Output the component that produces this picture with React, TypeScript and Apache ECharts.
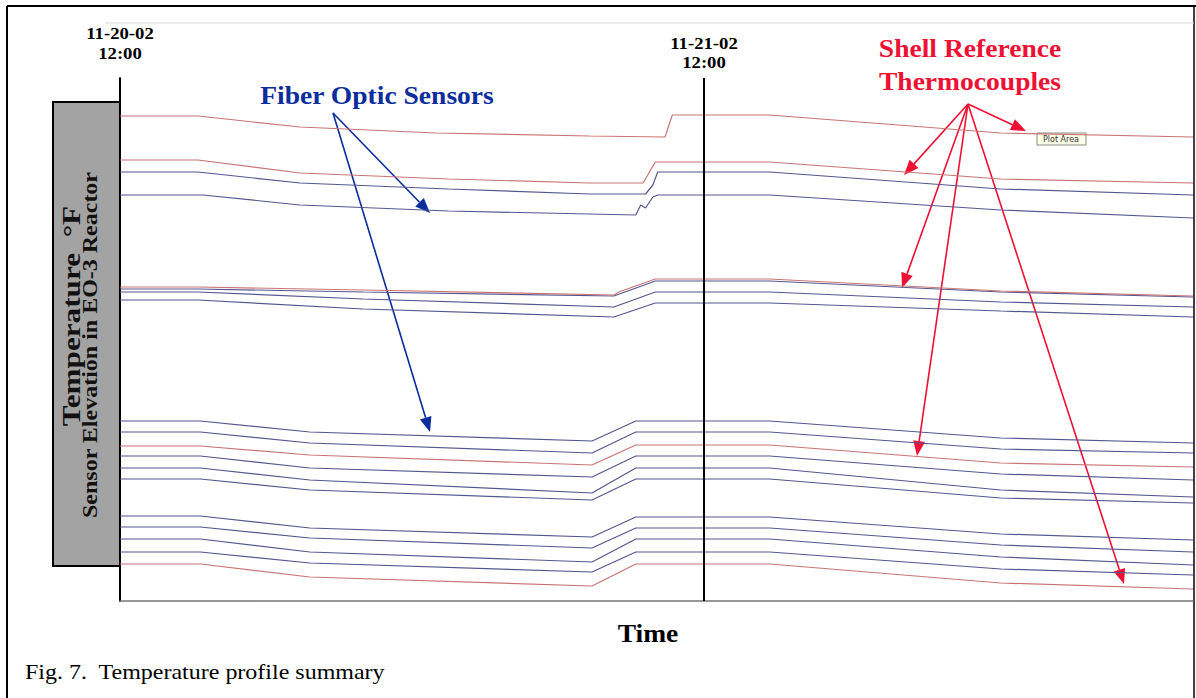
import React, { useEffect, useRef } from "react";
import * as echarts from "echarts";

// Time axis: hours after 11-20-02 12:00
const HOUR_MIN = 0;
const HOUR_MAX = 44.1;
const DAY_MARK = 24; // 11-21-02 12:00

// relative temperature readings (arbitrary units, higher = warmer / higher sensor)
const VAL_MIN = 0;
const VAL_MAX = 523;

type Pt = [number, number];

// top group
const tcTop: Pt[] = [[0, 485], [3.2, 485], [7.4, 474], [13, 468], [19.3, 465], [22.4, 464], [22.7, 486], [26.7, 486], [36.2, 468], [44.1, 464]];
const tcUpper: Pt[] = [[0, 441], [3.2, 441], [7.4, 428], [13.5, 422], [19.3, 418], [21.5, 418], [22.0, 439], [26.7, 439], [36.2, 422], [44.1, 418]];
const foUpper1: Pt[] = [[0, 429], [3.2, 429], [7.4, 418], [13.5, 412], [19.3, 407], [21.6, 407], [21.9, 416], [22.1, 429], [26.7, 429], [36.2, 412], [44.1, 406]];
const foUpper2: Pt[] = [[0, 406], [3.4, 406], [7.4, 396], [13.5, 390], [21.2, 386], [21.4, 396], [21.6, 393], [21.9, 404], [22.1, 406], [26.7, 406], [36.2, 391], [44.1, 383]];

// middle group
const tcMid: Pt[] = [[0, 314], [3.2, 314], [10, 311], [20.3, 306], [20.5, 309], [22.0, 322], [26.7, 322], [36.2, 310], [44.1, 305]];
const foMid1: Pt[] = [[0, 312], [3.2, 312], [10, 309], [20.3, 305], [22.0, 320], [26.7, 320], [36.2, 309], [44.1, 304]];
const foMid2: Pt[] = [[0, 309], [3.2, 309], [10, 302], [20.3, 294], [22.0, 309], [26.7, 309], [36.2, 299], [44.1, 294]];
const foMid3: Pt[] = [[0, 301], [3.2, 301], [10, 292], [20.3, 284], [22.0, 298], [26.7, 298], [36.2, 290], [44.1, 284]];

// lower groups, sampled at these hours
const lowerHours = [0, 3.3, 7.8, 19.4, 21.2, 26.7, 36.2, 44.1];
const fo1 = [180, 180, 169, 160, 180, 180, 163, 158];
const fo2 = [169, 169, 158, 148, 169, 169, 152, 148];
const tcLow1 = [155, 155, 146, 136, 156, 156, 138, 134];
const fo3 = [145, 145, 133, 124, 145, 145, 127, 121];
const fo4 = [133, 133, 121, 108, 133, 133, 111, 104];
const fo5 = [122, 122, 111, 101, 122, 122, 103, 98];
const fo6 = [85, 85, 73, 64, 84, 84, 67, 61];
const fo7 = [74, 74, 63, 53, 73, 73, 56, 49];
const fo8 = [62, 62, 49, 39, 62, 62, 44, 36];
const fo9 = [49, 49, 38, 29, 49, 49, 32, 26];
const tcLow2 = [37, 37, 24, 15, 37, 37, 18, 12];

const RED = "#c97575";
const BLUE = "#56568f";

const zipLower = (vals: number[]): Pt[] => vals.map((v, i) => [lowerHours[i], v]);

const seriesDefs: { name: string; color: string; data: Pt[] }[] = [
  { name: "TC top", color: RED, data: tcTop },
  { name: "TC upper", color: RED, data: tcUpper },
  { name: "FO upper 1", color: BLUE, data: foUpper1 },
  { name: "FO upper 2", color: BLUE, data: foUpper2 },
  { name: "FO mid 1", color: BLUE, data: foMid1 },
  { name: "TC mid", color: RED, data: tcMid },
  { name: "FO mid 2", color: BLUE, data: foMid2 },
  { name: "FO mid 3", color: BLUE, data: foMid3 },
  { name: "FO 1", color: BLUE, data: zipLower(fo1) },
  { name: "FO 2", color: BLUE, data: zipLower(fo2) },
  { name: "TC low 1", color: RED, data: zipLower(tcLow1) },
  { name: "FO 3", color: BLUE, data: zipLower(fo3) },
  { name: "FO 4", color: BLUE, data: zipLower(fo4) },
  { name: "FO 5", color: BLUE, data: zipLower(fo5) },
  { name: "FO 6", color: BLUE, data: zipLower(fo6) },
  { name: "FO 7", color: BLUE, data: zipLower(fo7) },
  { name: "FO 8", color: BLUE, data: zipLower(fo8) },
  { name: "FO 9", color: BLUE, data: zipLower(fo9) },
  { name: "TC low 2", color: RED, data: zipLower(tcLow2) },
];

const SERIF = "'Liberation Serif', 'Times New Roman', serif";
const ARROW_BLUE = "#0c2d9c";
const ARROW_RED = "#ee1133";

function arrow(x1: number, y1: number, x2: number, y2: number, color: string): any[] {
  const dx = x2 - x1;
  const dy = y2 - y1;
  const len = Math.sqrt(dx * dx + dy * dy);
  const ux = dx / len;
  const uy = dy / len;
  const hl = 15;
  const hw = 6;
  const bx = x2 - ux * hl;
  const by = y2 - uy * hl;
  return [
    {
      type: "line",
      silent: true,
      shape: { x1, y1, x2: bx, y2: by },
      style: { stroke: color, lineWidth: 1.6 },
    },
    {
      type: "polygon",
      silent: true,
      shape: {
        points: [
          [x2, y2],
          [bx - uy * hw, by + ux * hw],
          [bx + uy * hw, by - ux * hw],
        ],
      },
      style: { fill: color },
    },
  ];
}

function label(text: string, x: number, y: number, font: string, fill: string, sx: number, align = "center", rotation = 0): any {
  return {
    type: "text",
    x,
    y,
    rotation,
    scaleX: sx,
    silent: true,
    style: { text, fill, font, align, verticalAlign: "middle" },
  };
}

export default function App() {
  const ref = useRef<HTMLDivElement>(null);
  useEffect(() => {
    if (!ref.current) return;
    const chart = echarts.init(ref.current, null, { renderer: "svg" });
    const series: any[] = seriesDefs.map((s) => ({
      name: s.name,
      type: "line",
      data: s.data,
      showSymbol: false,
      symbol: "none",
      silent: true,
      lineStyle: { color: s.color, width: 1.2 },
      itemStyle: { color: s.color },
    }));
    series[0].markLine = {
      silent: true,
      symbol: "none",
      label: { show: false },
      lineStyle: { color: "#000", width: 2, type: "solid" },
      data: [{ xAxis: DAY_MARK }],
    };

    const graphic: any[] = [
      // outer frame
      { type: "line", shape: { x1: 7, y1: 6, x2: 7, y2: 698 }, style: { stroke: "#000", lineWidth: 2 } },
      { type: "line", shape: { x1: 7, y1: 6, x2: 1196, y2: 6 }, style: { stroke: "#000", lineWidth: 2 } },
      { type: "line", shape: { x1: 1194, y1: 6, x2: 1194, y2: 698 }, style: { stroke: "#000", lineWidth: 1.5 } },
      { type: "line", shape: { x1: 105, y1: 23, x2: 1194, y2: 23 }, style: { stroke: "#d8d8d8", lineWidth: 1 } },
      // gray axis title box
      { type: "rect", shape: { x: 53, y: 102, width: 67, height: 464 }, style: { fill: "#a3a3a3", stroke: "#000", lineWidth: 2 } },
      label("Temperature  °F", 71, 316, `bold 26px ${SERIF}`, "#111", 1.2, "center", Math.PI / 2),
      label("Sensor Elevation in EO-3 Reactor", 90, 345, `bold 20px ${SERIF}`, "#111", 1.2, "center", Math.PI / 2),
      // date labels
      label("11-20-02", 120, 33, `bold 16px ${SERIF}`, "#000", 1.17),
      label("12:00", 120, 53, `bold 16px ${SERIF}`, "#000", 1.17),
      label("11-21-02", 704, 43, `bold 16px ${SERIF}`, "#000", 1.17),
      label("12:00", 704, 62, `bold 16px ${SERIF}`, "#000", 1.17),
      // annotations
      label("Fiber Optic Sensors", 377, 95, `bold 26px ${SERIF}`, ARROW_BLUE, 1.06),
      label("Shell Reference", 970, 48, `bold 26px ${SERIF}`, ARROW_RED, 1.06),
      label("Thermocouples", 970, 81, `bold 26px ${SERIF}`, ARROW_RED, 1.06),
      ...arrow(333, 113, 430, 213, ARROW_BLUE),
      ...arrow(333, 113, 430, 432, ARROW_BLUE),
      ...arrow(968, 104, 1026, 131, ARROW_RED),
      ...arrow(968, 104, 904, 175, ARROW_RED),
      ...arrow(968, 104, 902, 288, ARROW_RED),
      ...arrow(968, 104, 917, 456, ARROW_RED),
      ...arrow(968, 104, 1124, 584, ARROW_RED),
      // "Plot Area" tooltip remnant
      { type: "rect", shape: { x: 1037, y: 133, width: 49, height: 12 }, style: { fill: "#ffffe6", stroke: "#8a8a8a", lineWidth: 1 } },
      { type: "text", x: 1061, y: 139.5, style: { text: "Plot Area", fill: "#333", font: "8px 'DejaVu Sans', sans-serif", align: "center", verticalAlign: "middle" } },
      // axis title & caption
      label("Time", 648, 634, `bold 25px ${SERIF}`, "#000", 1.1),
      label("Fig. 7.  Temperature profile summary", 25, 672, `20px ${SERIF}`, "#000", 1.2, "left"),
    ];

    chart.setOption({
      animation: false,
      backgroundColor: "#fff",
      grid: { left: 120, right: 3, top: 78, bottom: 97, containLabel: false },
      xAxis: {
        type: "value",
        min: HOUR_MIN,
        max: HOUR_MAX,
        axisLine: { show: true, lineStyle: { color: "#777", width: 1.5 } },
        axisTick: { show: false },
        axisLabel: { show: false },
        splitLine: { show: false },
      },
      yAxis: {
        type: "value",
        min: VAL_MIN,
        max: VAL_MAX,
        axisLine: { show: true, lineStyle: { color: "#000", width: 2 } },
        axisTick: { show: false },
        axisLabel: { show: false },
        splitLine: { show: false },
      },
      series,
      graphic,
    });
    return () => chart.dispose();
  }, []);
  return (
    <div
      ref={ref}
      style={{ position: "fixed", left: 0, top: 0, width: 1196, height: 698, background: "#fff" }}
    />
  );
}
